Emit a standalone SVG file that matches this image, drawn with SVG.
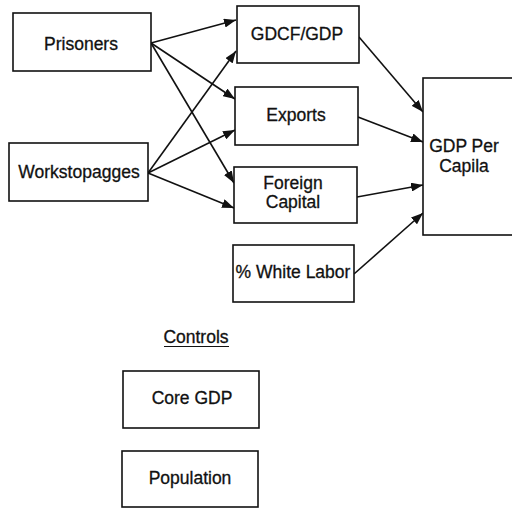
<svg xmlns="http://www.w3.org/2000/svg" width="512" height="510" viewBox="0 0 512 510">
<defs>
<style>
.box{fill:#fff;stroke:#111;stroke-width:1.6}
.t{font-family:"Liberation Sans",Arial,sans-serif;font-size:17.5px;fill:#111;stroke:#111;stroke-width:0.3;text-anchor:middle}
.e{fill:none;stroke:#111;stroke-width:1.6}
</style>
<marker id="ah" viewBox="0 0 12 9" refX="12" refY="4.5" markerWidth="12" markerHeight="9" markerUnits="userSpaceOnUse" orient="auto">
<path d="M0,0 L12,4.5 L0,9 Z" fill="#111"/>
</marker>
</defs>
<rect width="512" height="510" fill="#fff"/>
<g id="connectors">
<line class="e" x1="151" y1="43" x2="236" y2="20" marker-end="url(#ah)"/>
<line class="e" x1="151" y1="43" x2="235" y2="99" marker-end="url(#ah)"/>
<line class="e" x1="151" y1="43" x2="234" y2="183" marker-end="url(#ah)"/>
<line class="e" x1="148" y1="173" x2="236" y2="51" marker-end="url(#ah)"/>
<line class="e" x1="148" y1="173" x2="235" y2="130" marker-end="url(#ah)"/>
<line class="e" x1="148" y1="173" x2="234" y2="208" marker-end="url(#ah)"/>
<line class="e" x1="359" y1="37" x2="423" y2="112" marker-end="url(#ah)"/>
<line class="e" x1="358" y1="117" x2="423" y2="142" marker-end="url(#ah)"/>
<line class="e" x1="357" y1="197" x2="423" y2="185" marker-end="url(#ah)"/>
<line class="e" x1="354" y1="274" x2="423" y2="213" marker-end="url(#ah)"/>
</g>
<g id="prisoners"><rect class="box" x="13" y="13" width="138" height="58"/><text class="t" x="81" y="50">Prisoners</text></g>
<g id="workstopagges"><rect class="box" x="9" y="143" width="139" height="58"/><text class="t" x="79" y="178">Workstopagges</text></g>
<g id="gdcf"><rect class="box" x="237" y="6" width="122" height="57"/><text class="t" x="297" y="40">GDCF/GDP</text></g>
<g id="exports"><rect class="box" x="235" y="87" width="123" height="58"/><text class="t" x="296" y="121">Exports</text></g>
<g id="foreign"><rect class="box" x="234" y="167" width="123" height="56"/><text class="t" x="293" y="189">Foreign</text><text class="t" x="293" y="208">Capital</text></g>
<g id="whitelabor"><rect class="box" x="233" y="245" width="121" height="57"/><text class="t" x="293" y="278">% White Labor</text></g>
<g id="gdppc"><rect class="box" x="423" y="78" width="100" height="157"/><text class="t" x="464" y="152">GDP Per</text><text class="t" x="464" y="172">Capila</text></g>
<g id="controls"><text class="t" x="196" y="343">Controls</text><line x1="164" y1="346.5" x2="229" y2="346.5" stroke="#111" stroke-width="1.2"/></g>
<g id="coregdp"><rect class="box" x="123" y="371" width="136" height="57"/><text class="t" x="192" y="404">Core GDP</text></g>
<g id="population"><rect class="box" x="122" y="451" width="136" height="56"/><text class="t" x="190" y="484">Population</text></g>
</svg>
